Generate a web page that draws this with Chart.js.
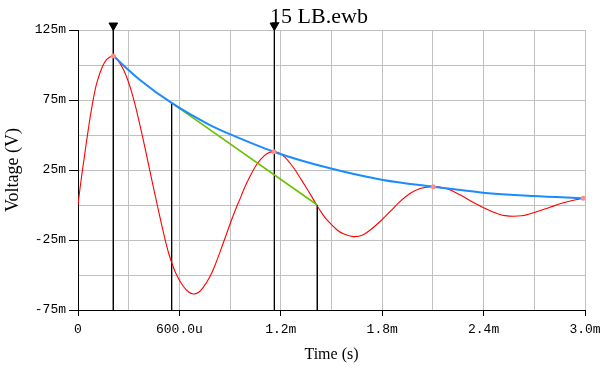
<!DOCTYPE html>
<html>
<head>
<meta charset="utf-8">
<script src="https://cdn.jsdelivr.net/npm/chart.js@4.4.1/dist/chart.umd.min.js"></script>
<style>
  html, body { margin: 0; padding: 0; background: #fff; }
  #wrap { width: 608px; height: 370px; position: relative; }
</style>
</head>
<body>
<div id="wrap"><canvas id="chart"></canvas></div>
<script>
// time in ms, voltage in mV
const signalTime = [0, 0.010, 0.022, 0.036, 0.047, 0.061, 0.071, 0.091, 0.111, 0.140, 0.170, 0.209,
  0.229, 0.268, 0.298, 0.318, 0.337, 0.357, 0.377, 0.406, 0.426, 0.450, 0.469, 0.489, 0.515, 0.538,
  0.564, 0.588, 0.623, 0.653, 0.682, 0.712, 0.741, 0.781, 0.811, 0.860, 0.909, 0.939, 0.964, 0.988,
  1.018, 1.047, 1.077, 1.117, 1.160, 1.195, 1.225, 1.254, 1.284, 1.314, 1.353, 1.383, 1.412, 1.442,
  1.472, 1.530, 1.570, 1.629, 1.688, 1.738, 1.797, 1.846, 1.905, 1.964, 2.024, 2.102, 2.182, 2.260,
  2.349, 2.448, 2.527, 2.625, 2.714, 2.793, 2.862, 2.931, 2.990];
const signalVolt = [0, 10, 21, 33, 42.5, 54, 62, 76, 87, 97.5, 104, 106.4,
  104.5, 97, 88, 80.5, 72, 62, 51.5, 35.5, 24, 10.5, 0, -11, -24.5, -35,
  -44.5, -51, -58, -62, -63.6, -62.5, -58.8, -51, -43, -27, -10.5, -1.2, 6, 13,
  20.5, 27, 32, 36.6, 38.1, 36.8, 34, 30, 25.2, 19.5, 12, 6, 0, -5.6,
  -10.5, -17.5, -20.6, -22.6, -21.2, -17, -10.7, -4.8, 2.4, 8.2, 11.8, 13.1, 11.6, 7.3,
  1.2, -4.6, -7.6, -7.7, -4.8, -1.6, 1.2, 3.4, 4.8];

const envelopeTime = [0.209, 0.367, 0.554, 0.781, 0.899, 1.162, 1.491, 1.805, 2.101, 2.396, 2.692, 2.990];
const envelopeVolt = [106.4, 89.3, 72.9, 57.1, 50.6, 37.9, 26.2, 17.9, 13.1, 8.8, 6.4, 4.8];

const tangentTime = [0.554, 1.416];
const tangentVolt = [72.9, 0];

const peakTime = [0.209, 1.160, 2.102, 2.990];
const peakVolt = [106.4, 38.1, 13.1, 4.8];

// cursor lines: x position, top value, whether it has a marker on top
const cursorTime = [0.209, 0.554, 1.162, 1.416];
const cursorTop = [128.2, 72.9, 128.2, 0];
const cursorMarker = [true, false, true, false];

const xTickLabels = ['0', '600.0u', '1.2m', '1.8m', '2.4m', '3.0m'];
const yTickLabels = ['-75m', '-25m', '25m', '75m', '125m'];

const toPoints = (xs, ys) => xs.map((x, i) => ({ x: x, y: ys[i] }));

const datasets = [];
cursorTime.forEach((t, i) => {
  datasets.push({
    data: [{ x: t, y: cursorTop[i] }, { x: t, y: -75 }],
    borderColor: '#000',
    backgroundColor: '#000',
    borderWidth: 1,
    pointStyle: 'triangle',
    rotation: 180,
    pointRadius: cursorMarker[i] ? [5, 0] : 0,
    clip: false,
    order: 5
  });
});
datasets.push({
  data: toPoints(signalTime, signalVolt),
  borderColor: '#ff0000',
  borderWidth: 1.1,
  pointRadius: 0,
  tension: 0.35,
  order: 4
});
datasets.push({
  data: toPoints(tangentTime, tangentVolt),
  borderColor: '#6cc000',
  borderWidth: 1.6,
  pointRadius: 0,
  order: 3
});
datasets.push({
  data: toPoints(envelopeTime, envelopeVolt),
  borderColor: '#1a8cff',
  borderWidth: 2,
  pointRadius: 0,
  cubicInterpolationMode: 'monotone',
  order: 2
});
datasets.push({
  data: toPoints(peakTime, peakVolt),
  showLine: false,
  pointRadius: 2.5,
  pointBorderWidth: 0,
  pointBackgroundColor: '#ff8c8c',
  order: 1
});

const tickFont = { family: '"Liberation Mono", monospace', size: 13 };

const titlePlugin = {
  id: 'fileTitle',
  afterDraw(chart) {
    const ctx = chart.ctx;
    ctx.save();
    ctx.font = '22px "Liberation Serif", serif';
    ctx.fillStyle = '#000';
    ctx.textAlign = 'center';
    ctx.textBaseline = 'alphabetic';
    ctx.fillText('15 LB.ewb', 319, 23);
    ctx.restore();
  }
};

new Chart(document.getElementById('chart'), {
  type: 'line',
  data: { datasets: datasets },
  plugins: [titlePlugin],
  options: {
    responsive: true,
    maintainAspectRatio: false,
    animation: false,
    layout: { padding: { top: 30, right: 23, left: 0, bottom: 0 } },
    plugins: {
      legend: { display: false },
      tooltip: { enabled: false }
    },
    scales: {
      x: {
        type: 'linear',
        min: 0,
        max: 3,
        afterFit: s => { s.height = 60; },
        border: { color: '#000', width: 1 },
        grid: {
          color: '#c0c0c0',
          tickLength: 6,
          tickColor: c => (c.index % 2 ? 'rgba(0,0,0,0)' : '#000')
        },
        ticks: {
          stepSize: 0.3,
          autoSkip: false,
          maxRotation: 0,
          padding: 6,
          color: '#000',
          font: tickFont,
          callback: (v, i) => (i % 2 ? '' : xTickLabels[i / 2])
        },
        title: {
          display: true,
          text: 'Time (s)',
          color: '#000',
          font: { family: '"Liberation Serif", serif', size: 16 },
          padding: { top: 0, bottom: 6 }
        }
      },
      y: {
        type: 'linear',
        min: -75,
        max: 125,
        afterFit: s => { s.width = 78; },
        border: { color: '#000', width: 1 },
        grid: {
          color: '#c0c0c0',
          tickLength: 9,
          tickColor: c => (c.index % 2 ? 'rgba(0,0,0,0)' : '#000')
        },
        ticks: {
          stepSize: 25,
          autoSkip: false,
          padding: 3,
          color: '#000',
          font: tickFont,
          callback: (v, i) => (i % 2 ? '' : yTickLabels[i / 2])
        },
        title: {
          display: true,
          text: 'Voltage (V)',
          color: '#000',
          font: { family: '"Liberation Serif", serif', size: 18 },
          padding: { top: 2, bottom: 0 }
        }
      }
    }
  }
});
</script>
</body>
</html>
